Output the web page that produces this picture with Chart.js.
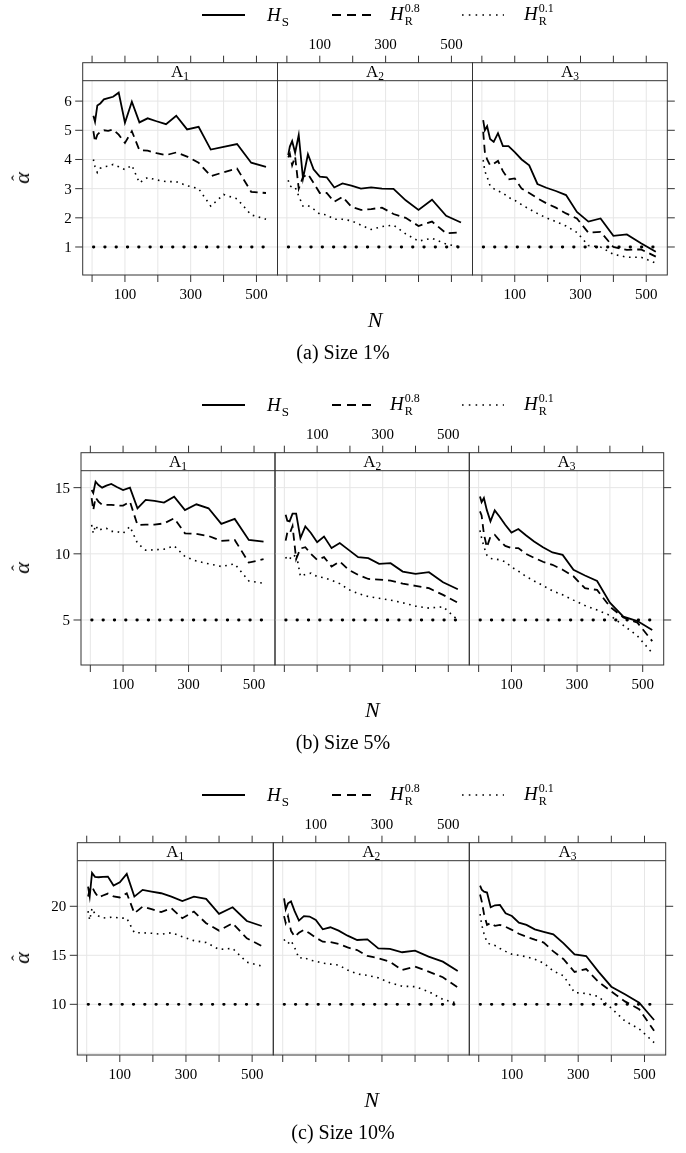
<!DOCTYPE html>
<html>
<head>
<meta charset="utf-8">
<script src="https://cdn.jsdelivr.net/npm/chart.js@4/dist/chart.umd.min.js"></script>
<style>
  body { margin: 0; background: #fff; font-family: "Liberation Serif", serif; }
  #page { position: relative; width: 686px; height: 1153px; overflow: hidden; background: #fff; }
  #page canvas { position: absolute; left: 0; }
  .t { position: absolute; white-space: nowrap; color: #000; line-height: 1; }
  .m { font-size: 19px; }
  .m i { font-style: italic; }
  .ss { display: inline-flex; flex-direction: column; vertical-align: middle; font-size: 12px; line-height: 1.05; margin-left: 1px; position: relative; top: -1px; }
  .sub1 { font-size: 13px; position: relative; top: 5px; margin-left: 1px; }
  .cap { font-size: 20px; transform: translateX(-50%); }
  .nlab { font-size: 22px; font-style: italic; transform: translateX(-50%); }
  .alab { font-size: 22px; transform: translate(-50%, -50%) rotate(-90deg); }
  .alab .al { position: relative; display: inline-block; font-style: italic; }
  .alab .hat { position: absolute; left: 3px; top: -2px; font-style: normal; font-size: 17px; }
</style>
</head>
<body>
<div id="page"></div>
<script>
// sample sizes on the x axis
const N = [4, 9, 16, 25, 36, 49, 64, 81, 100, 121, 144, 169, 196, 225, 256, 289, 324, 361, 400, 441, 484, 529];

// (a) Size 1%
const a1HS  = [5.50, 5.29, 5.85, 5.92, 6.06, 6.10, 6.15, 6.29, 5.26, 5.98, 5.27, 5.41, 5.31, 5.21, 5.50, 5.03, 5.12, 4.34, 4.43, 4.53, 3.89, 3.75];
const a1R08 = [4.97, 4.61, 4.85, 4.95, 5.00, 4.98, 5.03, 4.85, 4.57, 4.97, 4.32, 4.30, 4.22, 4.15, 4.24, 4.10, 3.89, 3.43, 3.56, 3.69, 2.89, 2.85];
const a1R01 = [4.00, 3.75, 3.55, 3.70, 3.75, 3.77, 3.83, 3.75, 3.65, 3.80, 3.20, 3.38, 3.30, 3.24, 3.24, 3.10, 3.00, 2.40, 2.80, 2.65, 2.10, 1.95];
const a2HS  = [4.15, 4.44, 4.63, 4.23, 4.84, 3.35, 4.18, 3.66, 3.41, 3.39, 3.04, 3.18, 3.10, 3.00, 3.04, 3.00, 2.99, 2.60, 2.27, 2.62, 2.07, 1.84];
const a2R08 = [4.07, 4.20, 3.80, 4.10, 3.00, 3.40, 3.50, 3.20, 2.85, 2.85, 2.55, 2.72, 2.38, 2.27, 2.30, 2.35, 2.13, 2.00, 1.72, 1.87, 1.47, 1.50];
const a2R01 = [3.29, 3.10, 3.05, 3.05, 2.75, 2.40, 2.42, 2.30, 2.13, 2.10, 1.95, 1.95, 1.90, 1.75, 1.60, 1.70, 1.75, 1.45, 1.20, 1.30, 1.10, 1.00];
const a3HS  = [5.35, 5.00, 5.14, 4.70, 4.60, 4.90, 4.46, 4.46, 4.25, 4.00, 3.80, 3.16, 3.03, 2.92, 2.78, 2.20, 1.87, 1.98, 1.38, 1.43, 1.13, 0.84];
const a3R08 = [4.95, 4.26, 4.00, 3.80, 3.85, 3.95, 3.60, 3.32, 3.35, 3.00, 2.85, 2.67, 2.50, 2.35, 2.15, 1.98, 1.49, 1.52, 1.00, 0.90, 0.92, 0.67];
const a3R01 = [3.98, 3.60, 3.40, 3.10, 3.00, 2.92, 2.85, 2.70, 2.60, 2.45, 2.30, 2.15, 2.00, 1.87, 1.72, 1.50, 1.05, 1.00, 0.75, 0.65, 0.65, 0.45];

// (b) Size 5%
const b1HS  = [14.82, 14.60, 15.45, 15.20, 15.00, 15.15, 15.28, 15.05, 14.82, 15.00, 13.44, 14.07, 14.00, 13.87, 14.32, 13.31, 13.74, 13.44, 12.26, 12.64, 11.05, 10.92];
const b1R08 = [14.20, 13.30, 14.25, 13.95, 13.70, 13.70, 13.70, 13.65, 13.64, 13.94, 12.18, 12.20, 12.20, 12.30, 12.68, 11.55, 11.50, 11.35, 10.97, 11.05, 9.34, 9.59];
const b1R01 = [12.18, 11.55, 12.15, 11.75, 11.90, 11.93, 11.70, 11.68, 11.55, 12.06, 10.80, 10.28, 10.30, 10.35, 10.60, 9.80, 9.45, 9.25, 9.04, 9.24, 7.95, 7.78];
const b2HS  = [12.95, 12.50, 12.45, 13.03, 13.03, 11.19, 12.07, 11.57, 10.88, 11.31, 10.43, 10.81, 10.30, 9.75, 9.67, 9.24, 9.29, 8.66, 8.48, 8.61, 7.85, 7.32];
const b2R08 = [11.00, 11.60, 11.50, 12.10, 9.60, 10.40, 10.50, 10.00, 9.55, 9.75, 9.04, 9.42, 8.80, 8.41, 8.10, 8.05, 7.98, 7.75, 7.58, 7.40, 6.90, 6.31];
const b2R01 = [9.75, 9.55, 9.70, 9.60, 10.05, 8.30, 8.45, 8.54, 8.28, 8.20, 8.00, 7.75, 7.30, 7.00, 6.77, 6.64, 6.50, 6.30, 6.05, 5.90, 6.00, 5.00];
const b3HS  = [14.34, 13.91, 14.22, 13.30, 12.45, 13.28, 12.80, 12.20, 11.60, 11.87, 11.40, 10.93, 10.50, 10.10, 9.92, 8.79, 8.36, 7.95, 6.31, 5.25, 4.92, 4.24];
const b3R08 = [13.20, 12.90, 11.50, 10.50, 11.30, 11.44, 11.00, 10.60, 10.43, 10.43, 10.00, 9.70, 9.40, 9.17, 8.80, 8.30, 7.40, 7.27, 6.01, 5.20, 4.80, 3.40];
const b3R01 = [11.77, 11.20, 10.55, 9.90, 9.65, 9.60, 9.55, 9.40, 9.00, 8.70, 8.30, 7.95, 7.60, 7.20, 6.90, 6.50, 6.10, 5.75, 5.35, 4.60, 3.80, 2.50];

// (c) Size 10%
const c1HS  = [22.00, 21.00, 23.40, 23.00, 22.96, 23.00, 23.03, 22.11, 22.45, 23.30, 20.99, 21.67, 21.50, 21.33, 20.99, 20.54, 20.99, 20.75, 19.22, 19.90, 18.50, 17.99];
const c1R08 = [21.00, 21.70, 22.00, 21.40, 20.90, 21.10, 21.30, 21.00, 20.90, 21.33, 19.29, 19.97, 19.70, 19.40, 19.80, 18.78, 19.46, 18.27, 17.52, 18.27, 16.73, 15.95];
const c1R01 = [19.50, 18.60, 19.80, 19.20, 19.00, 18.80, 18.85, 18.90, 18.80, 18.78, 17.30, 17.30, 17.25, 17.15, 17.30, 16.90, 16.50, 16.30, 15.60, 15.70, 14.30, 13.90];
const c2HS  = [20.80, 19.70, 20.30, 20.50, 19.50, 18.54, 19.00, 18.95, 18.60, 17.65, 17.86, 17.52, 17.00, 16.56, 16.63, 15.71, 15.65, 15.31, 15.48, 14.86, 14.35, 13.40];
const c2R08 = [19.00, 18.30, 19.00, 17.50, 16.90, 17.30, 17.60, 17.24, 16.80, 16.39, 16.35, 16.16, 15.80, 15.54, 14.93, 14.70, 14.35, 13.50, 13.84, 13.33, 12.76, 11.73];
const c2R01 = [16.63, 16.30, 16.20, 16.50, 15.80, 14.70, 14.80, 14.50, 14.40, 14.20, 14.10, 14.00, 13.50, 13.10, 12.95, 12.70, 12.20, 11.85, 11.80, 11.30, 10.50, 10.10];
const c3HS  = [22.10, 21.70, 21.50, 21.40, 19.90, 20.10, 20.14, 19.29, 19.01, 18.33, 18.10, 17.65, 17.40, 17.14, 16.22, 15.10, 14.93, 13.33, 11.80, 11.02, 10.17, 8.40];
const c3R08 = [21.20, 20.50, 19.20, 18.10, 18.30, 18.00, 18.10, 17.90, 17.60, 17.20, 16.90, 16.60, 16.30, 15.40, 14.60, 13.30, 13.60, 12.30, 11.30, 10.30, 9.50, 7.30];
const c3R01 = [19.20, 18.10, 17.20, 16.30, 16.10, 16.00, 15.70, 15.40, 15.10, 15.00, 14.85, 14.60, 14.20, 13.40, 12.90, 11.20, 11.10, 10.80, 9.60, 8.30, 7.50, 6.10];

// axis ticks
const xTicks = [0, 100, 200, 300, 400, 500];
const xLabels = [100, 300, 500];
const yTicksA = [1, 2, 3, 4, 5, 6];
const yTicksB = [5, 10, 15];
const yTicksC = [10, 15, 20];
const nominalSizes = [1, 5, 10];
const captions = ['(a) Size 1%', '(b) Size 5%', '(c) Size 10%'];

// layout (pixels inside one row band)
const W = 686, ROW_H = 390;
const STRIP_TOP = 62.7, PLOT_TOP = 80.7, PLOT_BOTTOM = 275;
const TICK = 7;

const rows = [
  { top: 0,   edges: [82.7, 277.5, 472.5, 667.3], ymin: 0.04, ymax: 6.7,  yTicks: yTicksA, grid: yTicksA,
    panels: [[a1HS, a1R08, a1R01], [a2HS, a2R08, a2R01], [a3HS, a3R08, a3R01]] },
  { top: 390, edges: [81, 275, 469.3, 663.7],     ymin: 1.6,  ymax: 16.28, yTicks: yTicksB, grid: yTicksB,
    panels: [[b1HS, b1R08, b1R01], [b2HS, b2R08, b2R01], [b3HS, b3R08, b3R01]] },
  { top: 780, edges: [77.3, 273.3, 469.3, 665.7], ymin: 4.83, ymax: 24.65, yTicks: yTicksC, grid: [5].concat(yTicksC),
    panels: [[c1HS, c1R08, c1R01], [c2HS, c2R08, c2R01], [c3HS, c3R08, c3R01]] }
];

const FONT = '15px "Liberation Serif", serif';

// draws lattice-style panel: grid, frame, strip, ticks
const latticePlugin = {
  id: 'lattice',
  beforeDatasetsDraw(chart, args, o) {
    const { ctx, chartArea: a, scales: { x, y } } = chart;
    ctx.save();
    ctx.strokeStyle = '#e6e6e6';
    ctx.lineWidth = 1;
    ctx.beginPath();
    xTicks.forEach(v => {
      const px = x.getPixelForValue(v);
      ctx.moveTo(px, a.top); ctx.lineTo(px, a.bottom);
    });
    o.grid.forEach(v => {
      const py = y.getPixelForValue(v);
      if (py > a.top && py < a.bottom) { ctx.moveTo(a.left, py); ctx.lineTo(a.right, py); }
    });
    ctx.stroke();
    ctx.restore();
  },
  afterDatasetsDraw(chart, args, o) {
    const { ctx, chartArea: a, scales: { x, y } } = chart;
    ctx.save();
    ctx.strokeStyle = '#333';
    ctx.lineWidth = 1;
    // frame + strip
    ctx.strokeRect(a.left, STRIP_TOP, a.right - a.left, a.bottom - STRIP_TOP);
    ctx.beginPath(); ctx.moveTo(a.left, a.top); ctx.lineTo(a.right, a.top); ctx.stroke();
    // strip label
    ctx.fillStyle = '#000';
    ctx.textBaseline = 'alphabetic';
    const cx = (a.left + a.right) / 2;
    ctx.font = '17px "Liberation Serif", serif';
    const wA = ctx.measureText('A').width;
    ctx.font = '11.5px "Liberation Serif", serif';
    const wS = ctx.measureText(o.name).width;
    const sx = cx - (wA + wS) / 2;
    ctx.font = '17px "Liberation Serif", serif';
    ctx.fillText('A', sx, PLOT_TOP - 4);
    ctx.font = '11.5px "Liberation Serif", serif';
    ctx.fillText(o.name, sx + wA, PLOT_TOP - 1);

    // x ticks, top and bottom
    ctx.beginPath();
    xTicks.forEach(v => {
      const px = x.getPixelForValue(v);
      ctx.moveTo(px, a.bottom); ctx.lineTo(px, a.bottom + TICK);
      ctx.moveTo(px, STRIP_TOP - TICK); ctx.lineTo(px, STRIP_TOP);
    });
    // y ticks
    o.yTicks.forEach(v => {
      const py = y.getPixelForValue(v);
      if (o.panel === 0) { ctx.moveTo(a.left - TICK - 0.5, py); ctx.lineTo(a.left, py); }
      if (o.panel === 2) { ctx.moveTo(a.right, py); ctx.lineTo(a.right + TICK + 0.5, py); }
    });
    ctx.stroke();

    ctx.font = FONT;
    ctx.textAlign = 'center';
    ctx.textBaseline = 'middle';
    xLabels.forEach(v => {
      const px = x.getPixelForValue(v);
      if (o.panel === 1) ctx.fillText(String(v), px, 45);
      else ctx.fillText(String(v), px, 295);
    });
    if (o.panel === 0) {
      ctx.textAlign = 'right';
      o.yTicks.forEach(v => ctx.fillText(String(v), a.left - TICK - 4, y.getPixelForValue(v) + 1));
    }
    ctx.restore();
  }
};

const page = document.getElementById('page');

rows.forEach((row, r) => {
  row.panels.forEach((series, p) => {
    const cv = document.createElement('canvas');
    cv.width = W; cv.height = ROW_H;
    cv.style.top = row.top + 'px';
    page.appendChild(cv);
    const pts = s => N.map((n, i) => ({ x: n, y: s[i] }));
    const nom = nominalSizes[r];
    new Chart(cv, {
      type: 'line',
      data: {
        datasets: [
          { label: 'HS', data: pts(series[0]), borderColor: '#000', borderWidth: 1.8 },
          { label: 'HR0.8', data: pts(series[1]), borderColor: '#000', borderWidth: 1.8, borderDash: [8, 5] },
          { label: 'HR0.1', data: pts(series[2]), borderColor: '#000', borderWidth: 1.6, borderDash: [1.6, 4.6] },
          { label: 'nominal', data: [{ x: N[0], y: nom }, { x: N[N.length - 1], y: nom }],
            borderColor: '#000', borderWidth: 2.8, borderCapStyle: 'round', borderDash: [0.5, 10.8] }
        ]
      },
      options: {
        responsive: false,
        animation: false,
        devicePixelRatio: 1,
        layout: { padding: { left: row.edges[p], right: W - row.edges[p + 1], top: PLOT_TOP, bottom: ROW_H - PLOT_BOTTOM } },
        elements: { point: { radius: 0 }, line: { tension: 0, fill: false } },
        plugins: {
          legend: { display: false },
          tooltip: { enabled: false },
          lattice: { panel: p, name: String(p + 1), yTicks: row.yTicks, grid: row.grid }
        },
        scales: {
          x: { type: 'linear', min: -28.5, max: 564, display: false },
          y: { type: 'linear', min: row.ymin, max: row.ymax, display: false }
        }
      },
      plugins: [latticePlugin]
    });
  });

  // html texts for the row
  const T = row.top;
  const mid = (row.edges[0] + row.edges[3]) / 2;
  const html = `
    <svg class="t" style="left:200px;top:${T + 10}px" width="48" height="10"><line x1="2" y1="5" x2="45" y2="5" stroke="#000" stroke-width="2"/></svg>
    <div class="t m" style="left:267px;top:${T + 5}px"><i>H</i><span class="sub1">S</span></div>
    <svg class="t" style="left:330px;top:${T + 10}px" width="48" height="10"><line x1="2" y1="5" x2="42" y2="5" stroke="#000" stroke-width="2" stroke-dasharray="9 6"/></svg>
    <div class="t m" style="left:390px;top:${T + 3}px"><i>H</i><span class="ss"><span>0.8</span><span>R</span></span></div>
    <svg class="t" style="left:460px;top:${T + 10}px" width="48" height="10"><line x1="2" y1="5" x2="44" y2="5" stroke="#000" stroke-width="1.6" stroke-dasharray="1.6 5.2"/></svg>
    <div class="t m" style="left:524px;top:${T + 3}px"><i>H</i><span class="ss"><span>0.1</span><span>R</span></span></div>
    <div class="t nlab" style="left:${mid}px;top:${T + 309}px">N</div>
    <div class="t cap" style="left:343px;top:${T + 342}px">${captions[r]}</div>
    <div class="t alab" style="left:22px;top:${T + (PLOT_TOP + PLOT_BOTTOM) / 2}px"><span class="al">&alpha;<span class="hat">&#710;</span></span></div>`;
  page.insertAdjacentHTML('beforeend', html);
});
</script>
</body>
</html>
